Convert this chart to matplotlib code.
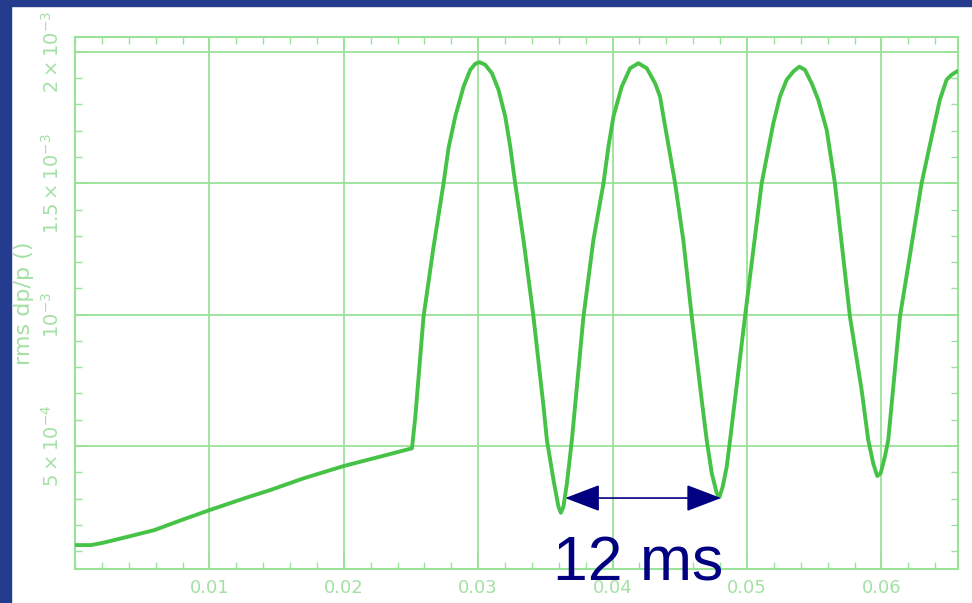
import matplotlib
matplotlib.use('Agg')
import matplotlib.pyplot as plt
from matplotlib.patches import Rectangle
from matplotlib.ticker import MultipleLocator

# values
# slow ramp before the kick (time in s, rms dp/p)
ramp_t = [0.0000, 0.0012, 0.0021, 0.0041, 0.0059, 0.0078, 0.0100, 0.0126,
          0.0145, 0.0170, 0.0200, 0.0225, 0.0249, 0.02507]
ramp_dpp = [1.23e-4, 1.23e-4, 1.32e-4, 1.57e-4, 1.80e-4, 2.16e-4, 2.56e-4, 3.01e-4,
            3.32e-4, 3.77e-4, 4.24e-4, 4.57e-4, 4.89e-4, 4.91e-4]

# oscillation after the kick
osc_t = [0.02532, 0.02593, 0.02668, 0.02742, 0.02779, 0.02829, 0.02891, 0.02941,
         0.02978, 0.03010, 0.03052, 0.03102, 0.03151, 0.03201, 0.03238, 0.03275,
         0.03337, 0.03411, 0.03486, 0.03511, 0.03560, 0.03597, 0.03615, 0.03634,
         0.03660, 0.03697, 0.03783, 0.03857, 0.03932, 0.03969, 0.04006, 0.04068,
         0.04130, 0.04192, 0.04254, 0.04316, 0.04353, 0.04378, 0.04465, 0.04526,
         0.04589, 0.04663, 0.04700, 0.04738, 0.04775, 0.04794, 0.04819, 0.04849,
         0.04874, 0.04985, 0.05109, 0.05196, 0.05245, 0.05295, 0.05344, 0.05389,
         0.05431, 0.05481, 0.05530, 0.05593, 0.05654, 0.05766, 0.05853, 0.05902,
         0.05939, 0.05969, 0.05994, 0.06026, 0.06051, 0.06138, 0.06299, 0.06385,
         0.06435, 0.06485, 0.06522, 0.06559]
osc_dpp = [6.12e-4, 9.92e-4, 1.259e-3, 1.500e-3, 1.634e-3, 1.754e-3, 1.868e-3, 1.932e-3,
           1.955e-3, 1.961e-3, 1.951e-3, 1.919e-3, 1.856e-3, 1.754e-3, 1.640e-3, 1.500e-3,
           1.284e-3, 9.92e-4, 6.50e-4, 5.23e-4, 3.71e-4, 2.69e-4, 2.46e-4, 2.69e-4,
           3.58e-4, 5.23e-4, 9.92e-4, 1.284e-3, 1.500e-3, 1.640e-3, 1.754e-3, 1.868e-3,
           1.938e-3, 1.957e-3, 1.938e-3, 1.881e-3, 1.830e-3, 1.754e-3, 1.500e-3, 1.284e-3,
           9.92e-4, 6.75e-4, 5.23e-4, 3.96e-4, 3.20e-4, 3.05e-4, 3.45e-4, 4.21e-4,
           5.23e-4, 9.92e-4, 1.500e-3, 1.729e-3, 1.830e-3, 1.894e-3, 1.925e-3, 1.944e-3,
           1.932e-3, 1.881e-3, 1.818e-3, 1.703e-3, 1.500e-3, 9.92e-4, 7.13e-4, 5.23e-4,
           4.34e-4, 3.86e-4, 3.96e-4, 4.59e-4, 5.23e-4, 9.92e-4, 1.500e-3, 1.703e-3,
           1.818e-3, 1.894e-3, 1.913e-3, 1.925e-3]

x_ticks = [0.01, 0.02, 0.03, 0.04, 0.05, 0.06]
x_tick_labels = ['0.01', '0.02', '0.03', '0.04', '0.05', '0.06']
y_ticks = [5e-4, 1e-3, 1.5e-3, 2e-3]
y_tick_labels = [r'$5\times10^{-4}$', r'$10^{-3}$', r'$1.5\times10^{-3}$', r'$2\times10^{-3}$']

# period marker between the two minima
period_start = 0.03647
period_end = 0.04807
period_level = 3.02e-4
period_text = '12 ms'

curve_color = '#46c346'
grid_color = '#9ae29a'
label_color = '#a4e0a4'
navy = '#000080'
border = '#233c8e'

t = ramp_t + osc_t
dpp = ramp_dpp + osc_dpp

fig = plt.figure(figsize=(9.72, 6.03), dpi=100)
fig.patches.append(Rectangle((0, 0), 11 / 972, 1, transform=fig.transFigure,
                             color=border, zorder=0))
fig.patches.append(Rectangle((0, 1 - 6 / 603), 1, 6 / 603, transform=fig.transFigure,
                             color=border, zorder=0))

ax = fig.add_axes([0.0772, 0.0564, 0.9084, 0.8823])
ax.plot(t, dpp, color=curve_color, lw=2.8, solid_joinstyle='round', zorder=3)

ax.set_xlim(0, 0.0657)
ax.set_ylim(3.2e-5, 2.057e-3)

ax.set_xticks(x_ticks)
ax.set_xticklabels(x_tick_labels)
ax.set_yticks(y_ticks)
ax.set_yticklabels(y_tick_labels, rotation=90, va='center')
ax.xaxis.set_minor_locator(MultipleLocator(0.002))
ax.yaxis.set_minor_locator(MultipleLocator(1e-4))

ax.tick_params(which='both', direction='in', top=True, right=True,
               color=grid_color, labelcolor=label_color)
ax.tick_params(which='major', length=10, width=1.2)
ax.tick_params(which='minor', length=5, width=1.0)
ax.tick_params(axis='y', pad=9, labelsize=14)
ax.tick_params(axis='x', pad=7, labelsize=13)

for s in ax.spines.values():
    s.set_color(grid_color)
    s.set_linewidth(1.5)

ax.grid(True, which='major', color=grid_color, lw=1.3)
ax.set_axisbelow(True)

ax.set_ylabel('rms dp/p ()', color=label_color, fontsize=16)
ax.yaxis.set_label_coords(-0.047, 0.5)

# 12 ms period arrow
ax.annotate('', xy=(period_end, period_level), xytext=(period_start, period_level),
            arrowprops=dict(arrowstyle='<|-|>,head_length=1.1,head_width=0.42',
                            mutation_scale=20, color=navy, lw=1.2,
                            shrinkA=0, shrinkB=0), zorder=5)
ax.text(0.03558, -1.0e-5, period_text, color=navy, fontsize=45,
        family='Liberation Sans', va='baseline', ha='left', clip_on=False, zorder=6)

fig.savefig('out.png', dpi=100, facecolor='white')
